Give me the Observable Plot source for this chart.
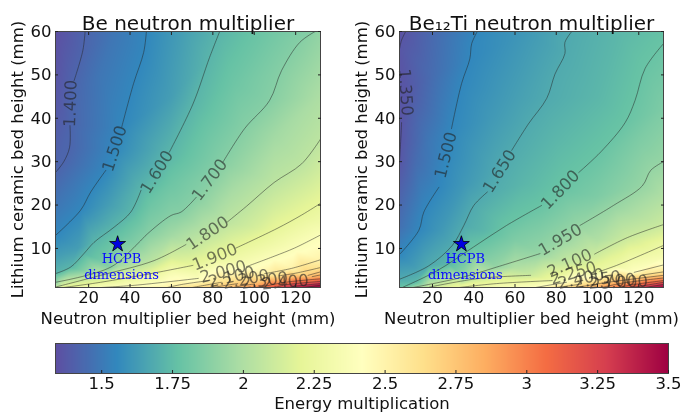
<!DOCTYPE html>
<html><head><meta charset="utf-8">
<script src="https://cdn.jsdelivr.net/npm/d3@7"></script>
<script src="https://cdn.jsdelivr.net/npm/@observablehq/plot@0.6"></script>
<style>
html,body{margin:0;padding:0;background:#fff}
#root{position:relative;width:692px;height:412px;overflow:hidden;filter:blur(0.4px)}
#root>*{position:absolute}
svg{display:block;overflow:visible}
</style></head><body><div id="root"></div>
<script>
// Contour segments: [level, x,y, x,y, ...]
const beContours = [
 [1.4, 18.3,60, 17.2,55.6, 13,48.7],
 [1.4, 11,38.3, 10.8,33.3, 8,30, 4,27.5],
 [1.5, 47.9,60, 46.6,55.2, 41.7,48, 36,38],
 [1.5, 28.3,28, 21,23, 16.1,18.8, 4,13],
 [1.6, 83.3,60, 78.4,54, 70.4,43.3, 59,32.2],
 [1.6, 45.3,23.4, 40.4,18.4, 32.3,14.9, 22.6,11.4, 17.7,8.8, 11.3,5.7, 4,4.2],
 [1.7, 129.4,60, 122,57.5, 113.2,51, 107.4,44.1, 95.3,37.6, 84.9,29.9],
 [1.7, 72,21.8, 64.7,18.4, 59.8,17.6, 48.5,13.4, 43.7,11.1, 30.7,5.7, 4,2.2],
 [1.8, 132,35.2, 122.9,29.5, 109.6,25.2, 96.2,19.7, 87,16.1],
 [1.8, 67,10.9, 51.6,7.2, 25.8,3.8, 4,1.1],
 [1.9, 132,20.4, 122.9,17.7, 111,14.6, 91.2,10.1],
 [1.9, 70.4,6.1, 50,4.2, 25.8,2.2, 8,1],
 [2.0, 132,13.1, 119.5,10.1, 109.6,8.2, 96.2,5.8],
 [2.0, 73,3.1, 42,1.5, 26,1],
 [2.1, 132,7.4, 118,5.4, 105,4.2],
 [2.1, 78,2.6, 65,1.7, 58,1],
 [2.2, 132,5.6, 120,4.3, 112,3.7],
 [2.2, 84,2.2, 76,1.5, 70,1],
 [2.3, 132,4.6, 126,3.8],
 [2.3, 92,1.9, 85,1.4, 80,1],
 [2.4, 132,3.9, 128,3.5],
 [2.4, 100,1.8, 94,1.4, 90,1],
 [2.6, 132,3.0, 115,2.2, 105,1.3, 101,1],
 [2.8, 132,2.4, 115,1.6, 110,1],
 [3.0, 132,1.9, 120,1.3, 117,1],
 [3.2, 132,1.5, 124,1]
];
const be12Contours = [
 [1.35, 7,60, 5,58, 4,56],
 [1.35, 5,39, 4.5,34, 4,30],
 [1.5, 41.7,60, 39,57.2, 38.1,53.7, 34.1,48, 29.2,37.6],
 [1.5, 23.1,24.1, 15.8,18.4, 13.4,14.2, 4,8.6],
 [1.65, 87.5,60, 84.2,57.5, 84.2,54.9, 79.4,50.2, 75.4,44.6, 66.5,38.7, 58.4,32.6],
 [1.65, 46.6,23, 40,19.9, 35.2,15.3, 29.6,10.7, 18.2,6, 4,2.9],
 [1.8, 132,57.2, 123.1,51.5, 118.2,44.1, 113.4,39, 101.7,32.3, 90.9,27.5],
 [1.8, 72.9,19.9, 55.9,15.3, 39.8,10.3, 22,4.8, 5.8,1.1],
 [1.95, 132,30, 125.8,28, 121.7,24.4, 107.7,19.9, 91.5,15.3],
 [1.95, 72.1,8.8, 51.1,5.7, 34.9,3.4, 10.6,1],
 [2.1, 132,15.5, 114.5,12.5, 98.6,8.7],
 [2.1, 67.6,3.8, 42.8,3.1, 18.6,1.1],
 [2.25, 132,10.7, 109.3,6.1, 101,4.7],
 [2.25, 78,2.6, 51,1.9, 33,1],
 [2.4, 132,6.2, 117.8,4.5],
 [2.4, 85,2.2, 76,1.5, 70,1],
 [2.55, 132,4.6, 122,3.9],
 [2.55, 92,1.8, 85,1.3, 80,1],
 [2.7, 132,3.8, 105,2.2, 90,1],
 [2.85, 132,3.2, 112,2, 102,1],
 [3.0, 132,2.6, 118,1.7, 110,1],
 [3.15, 132,2.2, 122,1.4, 116,1],
 [3.3, 132,1.7, 123,1]
];
// Contour labels: text, x, y, angle
const beLabels = [
 ["1.400",11.3,43.4,-88],["1.500",32.6,33,-72],["1.600",53,27.6,-58],["1.700",78.5,25.8,-53],
 ["1.800",77.5,13.5,-34],["1.900",81,8,-22],["2.000",85,4.6,-15],["2.100",89,3.4,-13],
 ["2.200",96,2.9,-11],["2.300",105,2.6,-8],["2.400",115,2.2,-5]
];
const be12Labels = [
 ["1.350",7,46,86],["1.500",26.5,31.5,-76],["1.650",52.5,27.8,-58],["1.800",82,23.5,-46],
 ["1.950",82,12,-30],["2.100",86.5,6.6,-24],["2.250",88.3,4.3,-16],["2.400",92,3.0,-12],
 ["2.550",100,2.8,-8],["2.700",107,2.4,-5],["3.000",113,2.2,-3]
];
// Extra readings of the surface between the contours: x, y, level
const beField = [
 [4,60,1.34],[4,45,1.36],[4,20,1.45],[4,8,1.55],[4,1,1.83],[32,60,1.45],[65,60,1.55],[105,60,1.65],[132,60,1.72],
 [132,45,1.77],[132,27,1.85],[132,16,1.95],[132,10,2.05],[132,1,3.5],[40,1,2.05],
 [25,50,1.45],[60,45,1.55],[90,48,1.65],[30,20,1.55],[60,25,1.65],[90,25,1.75],[110,36,1.75],[110,19.5,1.85],[110,11,1.95],[110,6,2.1],
 [12,25,1.45],[15,10,1.55],[38,13,1.65],[50,20,1.65],[25,7.5,1.65],[60,13,1.75],[35,6,1.75],[60,8,1.85],[30,3.2,1.85],[100,15,1.85],[60,5.3,1.95]
];
const be12Field = [
 [4,60,1.33],[4,30,1.35],[4,15,1.43],[4,1,1.78],[20,50,1.42],[65,60,1.57],[110,60,1.72],[132,60,1.78],
 [132,42,1.87],[132,22,2.02],[132,13,2.17],[132,8,2.32],[132,1,3.5],[50,1,2.32],
 [18,35,1.45],[60,45,1.6],[100,45,1.72],[30,20,1.57],[65,25,1.72],[100,22,1.87],[100,12,2.02],[105,7,2.2],
 [12,30,1.42],[48,40,1.575],[36,25,1.575],[24,14,1.575],[12,5.5,1.6],[45,14,1.72],[28,6.5,1.72],[12,2.3,1.72],[80,35,1.72],
 [60,12,1.87],[35,5.5,1.87],[120,35,1.87],[60,5.6,2.02],[35,2.7,2.02]
];
const beLevels = [1.34,1.4,1.5,1.6,1.7,1.8,1.9,2.0,2.1,2.2,2.3,2.4,2.6,2.8,3.0,3.2,3.5];
const beColours = [1.34,1.42,1.55,1.72,1.87,2.05,2.22,2.38,2.5,2.62,2.72,2.8,3.0,3.2,3.35,3.45,3.5];
const be12Levels = [1.33,1.5,1.65,1.8,1.95,2.1,2.25,2.4,2.55,2.7,2.85,3.0,3.15,3.3,3.5];
const be12Colours = [1.34,1.55,1.68,1.78,1.92,2.1,2.27,2.42,2.6,2.75,2.9,3.05,3.2,3.35,3.5];
// Colour bar
const barTicks = [1.5,1.75,2,2.25,2.5,2.75,3,3.25,3.5];
const barTickText = ["1.5","1.75","2","2.25","2.5","2.75","3","3.25","3.5"];
const spectral = ["#5e4fa2","#3288bd","#66c2a5","#abdda4","#e6f598","#ffffbf","#fee08b","#fdae61","#f46d43","#d53e4f","#9e0142"];
const colorMin = 1.337, colorMax = 3.5;
const xTicks = [20,40,60,80,100,120], yTicks = [10,20,30,40,50,60];
const star = [{x:34,y:11}];
const hcpb = [{x:35.9,y:7.7,t:"HCPB"},{x:35.9,y:3.95,t:"dimensions"}];
const font = "DejaVu Sans";
const colorScale = {type:"linear", domain:d3.range(11).map(i=>colorMin+i*(colorMax-colorMin)/10), range:spectral, interpolate:"rgb"};

function panel(contours, labels, extra, levels, colours, title, left, mLeft, mRight){
  const segs = [], field = [];
  const col = d3.scaleLinear(levels, colours).clamp(true);
  contours.forEach((c,id)=>{ for(let i=1;i<c.length;i+=2){ const p={x:c[i],y:c[i+1],v:col(c[0]),id}; segs.push(p); field.push(p);} });
  labels.filter(l=>l[2]>5).forEach(l=>field.push({x:l[1],y:l[2],v:col(+l[0])}));
  extra.forEach(e=>field.push({x:e[0],y:e[1],v:col(e[2])}));
  const svg = Plot.plot({
    width:346,height:330,marginLeft:mLeft,marginRight:mRight,marginTop:31,marginBottom:43,
    style:{fontFamily:font,background:"transparent",overflow:"visible"},
    x:{domain:[4,132]}, y:{domain:[1,60]}, color:colorScale,
    marks:[
      Plot.raster(field,{x:"x",y:"y",fill:"v",x1:4,x2:132,y1:1,y2:60,interpolate:"barycentric",pixelSize:1,imageRendering:"auto"}),
      Plot.line(segs,{x:"x",y:"y",z:"id",stroke:"#222",strokeWidth:0.75,strokeOpacity:0.65,curve:"catmull-rom",clip:true}),
      Plot.text(labels,{x:d=>d[1],y:d=>d[2],text:d=>d[0],rotate:d=>d[3],fontSize:16.5,fill:"#222",fillOpacity:0.6,fontFamily:font}),
      Plot.dot(star,{x:"x",y:"y",symbol:"star",r:5,fill:"#0000e0",stroke:"#000",strokeWidth:0.8}),
      Plot.text(hcpb,{x:"x",y:"y",text:"t",fill:"#0a0aff",fontSize:13,fontFamily:"DejaVu Serif"}),
      Plot.frame({stroke:"#444",strokeWidth:1}),
      Plot.axisX(xTicks,{anchor:"bottom",tickSize:-3,tickPadding:7,fontSize:16.5,label:"Neutron multiplier bed height (mm)",labelAnchor:"center",labelArrow:"none",labelOffset:36,stroke:"#222",fill:"#111"}),
      Plot.axisX(xTicks,{anchor:"top",tickSize:-3,tickFormat:()=>"",label:null,stroke:"#222"}),
      Plot.axisY(yTicks,{anchor:"left",tickSize:-3,tickPadding:7,fontSize:16.5,label:"Lithium ceramic bed height (mm)",labelAnchor:"center",labelArrow:"none",labelOffset:44,stroke:"#222",fill:"#111"}),
      Plot.axisY(yTicks,{anchor:"right",tickSize:-3,tickFormat:()=>"",label:null,stroke:"#222"}),
      Plot.text([title],{frameAnchor:"top",lineAnchor:"bottom",dy:-2,fontSize:20,fill:"#111",fontFamily:font})
    ]
  });
  svg.style.left = left+"px"; svg.style.top = "0px";
  document.getElementById("root").appendChild(svg);
}
panel(beContours,beLabels,beField,beLevels,beColours,"Be neutron multiplier",0,55,26);
panel(be12Contours,be12Labels,be12Field,be12Levels,be12Colours,"Be₁₂Ti neutron multiplier",346,53,29);

const bar = Plot.plot({
  width:692,height:77,marginLeft:55,marginRight:24,marginTop:8,marginBottom:39,
  style:{fontFamily:font,background:"transparent",overflow:"visible"},
  x:{domain:[colorMin,colorMax]}, y:{domain:[0,1],axis:null}, color:colorScale,
  marks:[
    Plot.raster({width:612,height:1,x1:colorMin,x2:colorMax,y1:0,y2:1,fill:(x)=>x,imageRendering:"auto"}),
    Plot.frame({stroke:"#444",strokeWidth:1}),
    Plot.axisX(barTicks,{anchor:"bottom",tickSize:-3,tickPadding:7,fontSize:16.5,tickFormat:(d,i)=>barTickText[i],label:"Energy multiplication",labelAnchor:"center",labelArrow:"none",labelOffset:35,stroke:"#222",fill:"#111"})
  ]
});
bar.style.left="0px"; bar.style.top="335px";
document.getElementById("root").appendChild(bar);
</script></body></html>
